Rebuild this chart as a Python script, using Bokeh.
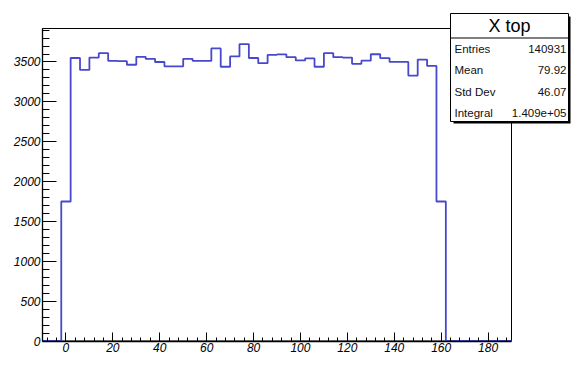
import numpy as np
from bokeh.plotting import figure
from bokeh.models import Range1d, FixedTicker, BoxAnnotation, Label
from bokeh.embed import file_html
from bokeh.resources import INLINE

# ---------------- data ----------------
bin_lower_edges = [-10, -6, -2, 2, 6, 10, 14, 18, 22, 26, 30, 34, 38, 42, 46, 50,
                   54, 58, 62, 66, 70, 74, 78, 82, 86, 90, 94, 98, 102, 106, 110,
                   114, 118, 122, 126, 130, 134, 138, 142, 146, 150, 154, 158, 162,
                   166, 170, 174, 178, 182, 186]
bin_upper_last = 190
counts = [0, 0, 1750, 3550, 3400, 3555, 3610, 3515, 3510, 3465, 3565, 3540,
          3500, 3445, 3445, 3540, 3515, 3515, 3670, 3440, 3570, 3725, 3550,
          3485, 3590, 3595, 3560, 3520, 3545, 3440, 3610, 3560, 3555, 3477,
          3517, 3597, 3549, 3501, 3501, 3330, 3530, 3450, 1750, 0, 0, 0, 0,
          0, 0, 0]
x_axis_range = [-10, 190]
y_axis_range = [0, 3920]
x_major_ticks = [0, 20, 40, 60, 80, 100, 120, 140, 160, 180]
x_minor_ticks = [-8, -4, 4, 8, 12, 16, 24, 28, 32, 36, 44, 48, 52, 56, 64, 68, 72, 76,
                 84, 88, 92, 96, 104, 108, 112, 116, 124, 128, 132, 136, 144, 148,
                 152, 156, 164, 168, 172, 176, 184, 188]
y_major_ticks = [0, 500, 1000, 1500, 2000, 2500, 3000, 3500]
y_minor_ticks = [100, 200, 300, 400, 600, 700, 800, 900, 1100, 1200, 1300, 1400,
                 1600, 1700, 1800, 1900, 2100, 2200, 2300, 2400, 2600, 2700, 2800,
                 2900, 3100, 3200, 3300, 3400, 3600, 3700, 3800, 3900]
stats_title = "X top"
stat_names = ["Entries", "Mean", "Std Dev", "Integral"]
stat_values = ["140931", "79.92", "46.07", "1.409e+05"]

# ---------------- layout (pixels) ----------------
W, H = 572, 354
FR_L, FR_R, FR_T, FR_B = 42.0, 511.0, 28.0, 340.5   # histogram frame in canvas px

x_lo, x_hi = x_axis_range
y_lo, y_hi = y_axis_range
sx = (FR_R - FR_L) / (x_hi - x_lo)
sy = (FR_B - FR_T) / (y_hi - y_lo)
x_start = x_lo - FR_L / sx
x_end = x_hi + (W - FR_R) / sx
y_start = y_lo - (H - FR_B) / sy
y_end = y_hi + FR_T / sy

p = figure(width=W, height=H, output_backend="svg", toolbar_location=None,
           x_range=Range1d(x_start, x_end), y_range=Range1d(y_start, y_end),
           min_border=0)
p.title.visible = False
p.background_fill_color = "white"
p.border_fill_color = "white"
p.outline_line_color = None
p.grid.visible = False

# histogram frame (top / right edges)
p.quad(left=[x_lo], right=[x_hi], bottom=[y_lo], top=[y_hi],
       fill_color=None, line_color="black", line_width=1)

# histogram outline
xs = np.array(bin_lower_edges + [bin_upper_last], dtype=float)
ys = np.array(counts + [counts[-1]], dtype=float)
p.step(xs, ys, mode="after", line_color="#4848cc", line_width=1.8)

# axes, pinned to the histogram frame
LABEL_FONT = "Liberation Sans"
p.xaxis.fixed_location = y_lo
p.yaxis.fixed_location = x_lo
p.xaxis.bounds = (x_lo, x_hi)
p.yaxis.bounds = (y_lo, y_hi)
p.xaxis.ticker = FixedTicker(ticks=x_major_ticks, minor_ticks=x_minor_ticks)
p.yaxis.ticker = FixedTicker(ticks=y_major_ticks, minor_ticks=y_minor_ticks)
for ax in (p.xaxis[0], p.yaxis[0]):
    ax.axis_line_color = "black"
    ax.axis_line_width = 1.3
    ax.major_tick_line_color = "black"
    ax.minor_tick_line_color = "black"
    ax.major_tick_out = 0
    ax.minor_tick_out = 0
    ax.major_label_text_font = LABEL_FONT
    ax.major_label_text_font_style = "italic"
    ax.major_label_text_font_size = "12px"
    ax.major_label_text_color = "black"
    ax.major_label_standoff = 2
p.xaxis.major_tick_in = 9
p.xaxis.minor_tick_in = 4
p.yaxis.major_tick_in = 14
p.yaxis.minor_tick_in = 7

# ---------------- stats box ----------------
bx_l, bx_r, bx_t, bx_b = 450, 568, 13, 121
CANVAS = dict(left_units="canvas", right_units="canvas",
              top_units="canvas", bottom_units="canvas")
p.add_layout(BoxAnnotation(left=bx_l + 3, right=bx_r + 2, top=bx_t + 3, bottom=bx_b + 2,
                           fill_color="black", fill_alpha=1.0, line_color=None, **CANVAS))
p.add_layout(BoxAnnotation(left=bx_l, right=bx_r, top=bx_t, bottom=bx_b,
                           fill_color="white", fill_alpha=1.0,
                           line_color="black", line_width=1, line_alpha=1.0, **CANVAS))
sep_y = 37.5
p.add_layout(BoxAnnotation(left=bx_l, right=bx_r, top=sep_y - 0.5, bottom=sep_y + 0.5,
                           fill_color="black", fill_alpha=1.0, line_color=None, **CANVAS))
p.add_layout(Label(x=(bx_l + bx_r) / 2, y=25.5, x_units="canvas", y_units="canvas",
                   text=stats_title, text_align="center", text_baseline="middle",
                   text_font=LABEL_FONT, text_font_size="18px", text_color="black"))
row_y = [48, 69.5, 91, 112]
for name, val, yy in zip(stat_names, stat_values, row_y):
    p.add_layout(Label(x=bx_l + 4, y=yy, x_units="canvas", y_units="canvas",
                       text=name, text_align="left", text_baseline="middle",
                       text_font=LABEL_FONT, text_font_size="11.5px", text_color="#111111"))
    p.add_layout(Label(x=bx_r - 2, y=yy, x_units="canvas", y_units="canvas",
                       text=val, text_align="right", text_baseline="middle",
                       text_font=LABEL_FONT, text_font_size="11.5px", text_color="#111111"))

open("out.html", "w").write(file_html(p, INLINE))
